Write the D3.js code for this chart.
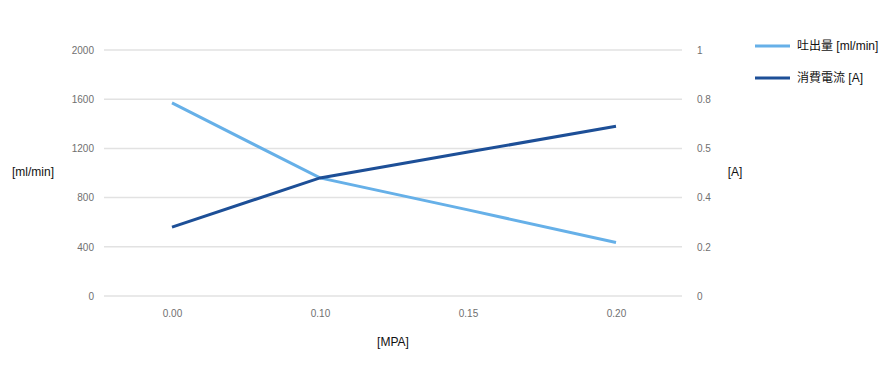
<!DOCTYPE html>
<html><head><meta charset="utf-8">
<script src="https://cdn.jsdelivr.net/npm/d3@7"></script>
<style>body{margin:0;background:#fff}svg{display:block}text{font-family:"Liberation Sans",Arial,sans-serif}</style>
</head><body>
<svg id="c" width="892" height="380"></svg>
<script>
const categories = ["0.00", "0.10", "0.15", "0.20"];
const flowValues = [1570, 960, 700, 435];      // 吐出量 [ml/min]
const currentValues = [0.28, 0.48, 0.585, 0.69]; // 消費電流 [A]
const leftTicks = [0, 400, 800, 1200, 1600, 2000];
const rightTicks = [0, 0.2, 0.4, 0.6, 0.8, 1];
const rightTickLabels = ["0", "0.2", "0.4", "0.5", "0.8", "1"];
const seriesNames = ["吐出量 [ml/min]", "消費電流 [A]"];
const colors = ["#66b0e8", "#1d4f97"];

const svg = d3.select("#c");
const L = 104, R = 682, T = 50, B = 296;
const x = d3.scalePoint().domain(categories).range([98, 690]).padding(0.5);
const yL = d3.scaleLinear().domain([0, 2000]).range([B, T]);
const yR = d3.scaleLinear().domain([0, 1]).range([B, T]);

// grid
svg.append("g").selectAll("line").data(leftTicks).join("line")
  .attr("x1", L).attr("x2", R).attr("y1", d => yL(d)).attr("y2", d => yL(d))
  .attr("stroke", "#e2e2e2").attr("stroke-width", 1.5);

const tickFont = "'Liberation Sans',Arial,sans-serif";
// left axis
const gl = svg.append("g").attr("transform", `translate(${L},0)`)
  .call(d3.axisLeft(yL).tickValues(leftTicks).tickSize(0).tickPadding(10).tickFormat(d3.format("d")));
gl.select(".domain").remove();
gl.selectAll("text").attr("fill", "#707070").style("font-size", "10px").style("font-family", tickFont);

// right axis
const gr = svg.append("g").attr("transform", `translate(${R},0)`)
  .call(d3.axisRight(yR).tickValues(rightTicks).tickSize(0).tickPadding(15)
    .tickFormat((d, i) => rightTickLabels[i]));
gr.select(".domain").remove();
gr.selectAll("text").attr("fill", "#707070").style("font-size", "10px").style("font-family", tickFont);

// x axis
const gx = svg.append("g").attr("transform", `translate(0,${B})`)
  .call(d3.axisBottom(x).tickSize(0).tickPadding(14));
gx.select(".domain").remove();
gx.selectAll("text").attr("fill", "#707070").style("font-size", "10px").style("font-family", tickFont);

// axis titles
svg.append("text").attr("x", 33).attr("y", 176).attr("text-anchor", "middle")
  .style("font-size", "12px").attr("fill", "#111").text("[ml/min]");
svg.append("text").attr("x", 735).attr("y", 176).attr("text-anchor", "middle")
  .style("font-size", "12px").attr("fill", "#111").text("[A]");
svg.append("text").attr("x", 393).attr("y", 346).attr("text-anchor", "middle")
  .style("font-size", "12px").attr("fill", "#111").text("[MPA]");

// lines
const lineL = d3.line().x((d, i) => x(categories[i])).y(d => yL(d));
const lineR = d3.line().x((d, i) => x(categories[i])).y(d => yR(d));
svg.append("path").datum(flowValues).attr("d", lineL).attr("fill", "none")
  .attr("stroke", colors[0]).attr("stroke-width", 3);
svg.append("path").datum(currentValues).attr("d", lineR).attr("fill", "none")
  .attr("stroke", colors[1]).attr("stroke-width", 3);

// legend
const lg = svg.append("g").selectAll("g").data(seriesNames).join("g")
  .attr("transform", (d, i) => `translate(755,${46 + i * 32})`);
lg.append("line").attr("x1", 0).attr("x2", 35).attr("stroke", (d, i) => colors[i]).attr("stroke-width", 3);
lg.append("text").attr("x", 42).attr("y", 4).style("font-size", "12px").attr("fill", "#111")
  .style("font-family", "'Liberation Sans','Noto Sans CJK JP',sans-serif").text(d => d);
</script>
</body></html>
